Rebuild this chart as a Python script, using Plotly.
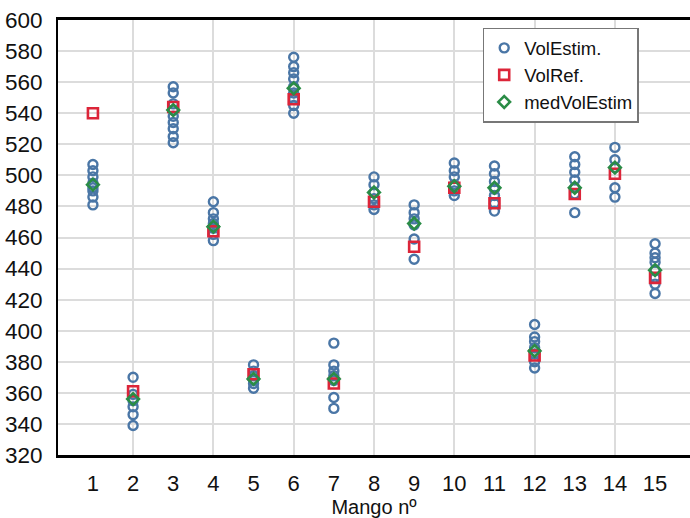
import plotly.graph_objects as go

mango = list(range(1, 16))
vol_estim = [
    [507, 503, 499, 495, 492, 490, 486, 481],
    [370, 359, 355, 351, 346, 339],
    [557, 553, 546, 542, 538, 534, 530, 525, 521],
    [483, 476, 472, 469, 466, 462, 458],
    [378, 374, 371, 368, 366, 363],
    [576, 570, 566, 562, 557, 553, 549, 545, 540],
    [392, 378, 374, 371, 368, 357, 350],
    [499, 494, 489, 485, 481, 478],
    [481, 476, 472, 468, 459, 446],
    [508, 503, 499, 494, 490, 487],
    [506, 501, 496, 491, 487, 482, 477],
    [404, 396, 393, 389, 385, 380, 376],
    [512, 507, 502, 497, 492, 488, 476],
    [518, 510, 505, 492, 486],
    [456, 450, 447, 444, 439, 434, 430, 424],
]
vol_ref = [540, 361, 544, 464, 372, 549, 366, 483, 454, 492, 482, 384, 488, 501, 434]
med_vol_estim = [494, 356, 542, 467, 369, 556, 369, 489, 469, 493, 492, 387, 492, 505, 439]
y_ticks = list(range(320, 601, 20))

xs, ys = [], []
for m, vals in zip(mango, vol_estim):
    for v in vals:
        xs.append(m)
        ys.append(v)

fig = go.Figure()
fig.add_trace(go.Scatter(
    x=xs, y=ys, mode="markers", name="VolEstim.",
    marker=dict(symbol="circle-open", size=9, color="#4a76a6", line=dict(width=2.4)),
))
fig.add_trace(go.Scatter(
    x=mango, y=vol_ref, mode="markers", name="VolRef.",
    marker=dict(symbol="square-open", size=10, color="#dc2539", line=dict(width=2.6)),
))
fig.add_trace(go.Scatter(
    x=mango, y=med_vol_estim, mode="markers", name="medVolEstim",
    marker=dict(symbol="diamond-open", size=9, color="#2a8c46", line=dict(width=2.6)),
))

font_family = "Liberation Sans, Arial, sans-serif"
fig.update_layout(
    width=690, height=518,
    margin=dict(l=58, r=0, t=20, b=63),
    paper_bgcolor="white", plot_bgcolor="white",
    font=dict(family=font_family, size=22, color="#111111"),
    showlegend=True,
    legend=dict(
        x=0.672, y=0.982, xanchor="left", yanchor="top",
        bgcolor="white", bordercolor="#777777", borderwidth=1.5,
        font=dict(size=18.5, family=font_family, color="#111111"),
        itemwidth=30, tracegroupgap=0,
    ),
    xaxis=dict(
        range=[0.13, 15.87], automargin=False,
        tickmode="array", tickvals=mango, ticktext=[str(m) for m in mango],
        showgrid=False,
        minor=dict(tickmode="linear", tick0=0, dtick=2, showgrid=True,
                   gridcolor="#dcdcdc", gridwidth=2, ticks=""),
        showline=True, linecolor="black", linewidth=3, mirror=True,
        ticks="", ticklabelstandoff=7,
        tickfont=dict(size=22),
        title=dict(text="Mango nº", font=dict(size=20), standoff=2),
        zeroline=False,
    ),
    yaxis=dict(
        range=[320, 600], automargin=False,
        tickmode="array", tickvals=y_ticks, ticktext=[str(v) for v in y_ticks],
        showgrid=True, gridcolor="#dcdcdc", gridwidth=2,
        showline=True, linecolor="black", linewidth=2,
        ticks="", ticklabelstandoff=9,
        tickfont=dict(size=22.5),
        zeroline=False,
    ),
)

fig.write_html(
    "out.html",
    config={"displayModeBar": False},
    post_script="document.body.style.margin='0';document.body.style.overflow='hidden';",
)
